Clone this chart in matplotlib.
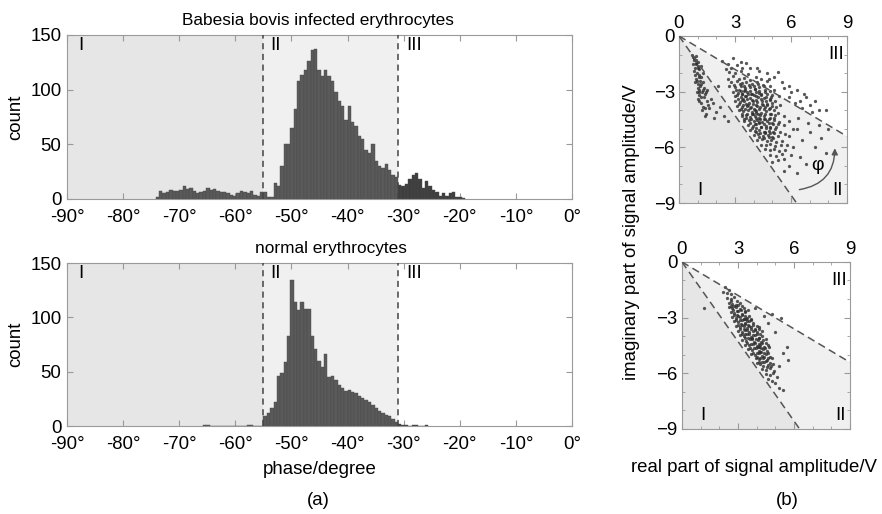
import numpy as np
import matplotlib.pyplot as plt
from matplotlib.patches import Polygon, FancyArrowPatch

plt.rcParams['font.family'] = ['Liberation Sans', 'DejaVu Sans']
plt.rcParams['font.size'] = 13.4

# fronteiras das regiões (graus)
phase_I_II = -55.0
phase_II_III = -31.0
bin_width = 0.6

# histograma - eritrócitos infectados
top_start = -74.2
top_counts = [2, 7, 5, 6, 8, 7, 7, 8, 12, 9, 10, 7, 5, 6, 7, 10, 8, 9, 7, 6, 6, 5, 4, 3, 5, 7, 6, 5, 7, 4, 3, 6,
              6, 2, 2, 15, 12, 30, 50, 50, 65, 82, 108, 113, 118, 126, 136, 137, 118, 112, 118, 112, 108, 98, 90, 85,
              72, 85, 70, 67, 58, 55, 45, 42, 50, 35, 30, 28, 32, 26, 22, 20,
              13, 12, 14, 18, 22, 24, 18, 10, 16, 12, 8, 6, 3, 5, 3, 5, 6, 2, 2, 1]

# histograma - eritrócitos normais
bot_start = -65.8
bot_counts = [1, 1, 0, 0, 0, 0, 0, 0, 0, 0, 0, 0, 0, 1, 1, 0, 0, 0,
              9, 12, 17, 22, 46, 49, 59, 83, 134, 114, 107, 114, 108, 108, 83, 71, 60, 54, 66, 45, 46, 42,
              38, 35, 32, 33, 31, 30, 28, 26, 24, 22, 19, 17, 14, 12, 10, 9, 6, 4,
              2, 1, 1, 0, 1, 1, 0, 0, 1]

# nuvem de pontos - infectados (parte real, parte imaginária)
top_re = [0.7, 0.8, 0.9, 0.75, 0.85, 1.0, 0.95, 1.1, 0.8, 0.9, 1.0, 1.2, 1.05, 0.85, 1.15, 1.3, 0.95, 1.1, 1.25, 1.0,
          1.35, 1.2, 1.4, 1.1, 1.3, 1.5, 1.25, 1.45, 1.6, 1.35, 1.2, 1.5, 1.7, 1.4, 1.55, 0.9, 1.0, 1.15, 1.3, 1.45,
          1.8, 2.0, 2.2, 1.9, 2.4, 2.1, 2.6,
          2.3, 2.6, 3.1, 2.8, 3.4, 2.5,
          2.7, 3.0, 3.3, 3.7, 4.1, 2.9, 3.5, 4.4, 3.2, 3.8, 4.7, 2.6,
          2.8, 3.1, 3.4, 3.6, 3.9, 4.2, 4.5, 4.9, 2.7, 3.0, 3.3, 3.55, 3.8, 4.05, 4.3, 4.6, 5.1, 3.2, 3.5,
          2.9, 3.15, 3.4, 3.65, 3.9, 4.15, 4.4, 4.7, 5.0, 5.35, 3.0, 3.3, 3.55, 3.8, 4.0, 4.25, 4.55, 4.85, 3.7, 4.3, 3.45,
          3.0, 3.25, 3.5, 3.75, 3.95, 4.2, 4.45, 4.7, 5.0, 5.4, 3.1, 3.4, 3.65, 3.85, 4.1, 4.35, 4.6, 4.9, 5.2, 3.6, 4.0, 4.5,
          3.2, 3.45, 3.7, 3.9, 4.15, 4.4, 4.65, 4.95, 5.3, 5.6, 3.35, 3.6, 3.8, 4.05, 4.3, 4.55, 4.8, 5.1, 3.95, 4.25, 3.5,
          3.5, 3.75, 4.0, 4.2, 4.45, 4.7, 5.0, 5.35, 3.7, 3.95, 4.15, 4.4, 4.65, 4.9, 5.2, 5.6, 4.3, 4.55,
          3.8, 4.05, 4.3, 4.55, 4.8, 5.05, 5.4, 4.0, 4.25, 4.5, 4.75, 5.0, 5.3, 5.7, 4.6,
          4.2, 4.45, 4.7, 4.95, 5.2, 5.5, 4.4, 4.65, 4.9, 5.15, 5.45, 5.8,
          4.6, 4.85, 5.1, 5.35, 5.7, 4.9, 5.2, 5.5, 6.0, 5.3, 5.6, 5.0,
          3.6, 4.2, 4.7, 5.1, 5.5, 5.9, 6.3, 6.7, 5.3, 6.5, 7.0, 7.5, 7.9, 6.0, 5.6, 4.8, 4.3, 3.8, 3.3, 2.9,
          6.8, 7.3, 5.9, 6.2, 6.6, 7.1,
          5.9, 6.3, 6.6, 7.0, 7.3, 6.1, 6.5, 7.6, 6.8, 5.9, 6.3, 7.9, 5.6, 6.9, 6.4, 5.9, 7.5, 8.0, 6.1,
          # núcleo denso
          2.95, 3.25, 3.5, 3.75, 4.0, 4.25, 4.55,
          3.05, 3.3, 3.55, 3.8, 4.05, 4.3, 4.6, 4.9,
          3.1, 3.35, 3.6, 3.85, 4.1, 4.4, 4.65, 4.95,
          3.15, 3.4, 3.65, 3.9, 4.15, 4.4, 4.65, 4.9, 5.15,
          3.2, 3.45, 3.7, 3.95, 4.2, 4.45, 4.7, 5.0,
          3.3, 3.55, 3.8, 4.05, 4.3, 4.55, 4.8, 5.1,
          3.4, 3.65, 3.9, 4.1, 4.35, 4.6, 4.85, 5.15,
          3.6, 3.85, 4.1, 4.35, 4.6, 4.85, 5.1,
          3.8, 4.05, 4.3, 4.55, 4.8, 5.05, 5.3,
          3.9, 4.15, 4.4, 4.65, 4.9, 5.15,
          4.1, 4.35, 4.6, 4.85, 5.1,
          4.3, 4.55, 4.8, 5.05,
          0.8, 0.9, 1.0, 0.85, 0.95, 1.1, 1.0, 1.2, 0.9, 1.1, 1.3, 1.05, 1.2, 0.75, 1.4]
top_im = [-1.0, -1.2, -1.1, -1.5, -1.7, -1.4, -2.0, -1.8, -1.9, -2.3, -2.6, -2.2, -2.9, -2.5, -2.7, -2.5, -3.0, -3.2,
          -3.0, -3.4, -3.3, -3.6, -3.1, -2.1, -3.8, -3.5, -4.0, -4.2, -3.9, -2.8, -1.6, -2.9, -3.4, -4.3, -3.7, -1.3,
          -1.7, -2.4, -2.0, -3.0,
          -3.6, -4.1, -3.8, -4.4, -4.3, -2.7, -4.6,
          -1.35, -1.5, -1.55, -1.7, -1.75, -1.8,
          -1.95, -2.0, -1.9, -2.05, -2.2, -2.15, -2.25, -2.3, -2.3, -2.35, -2.4, -2.3,
          -2.5, -2.45, -2.55, -2.5, -2.6, -2.5, -2.65, -2.7, -2.7, -2.75, -2.7, -2.8, -2.75, -2.85, -2.75, -2.9, -2.9,
          -2.9, -2.95,
          -3.0, -3.05, -3.1, -3.0, -3.1, -3.0, -3.15, -3.1, -3.2, -3.25, -3.25, -3.3, -3.25, -3.35, -3.2, -3.3, -3.35,
          -3.4, -3.15, -3.05, -3.4,
          -3.5, -3.55, -3.5, -3.6, -3.5, -3.55, -3.5, -3.65, -3.6, -3.7, -3.75, -3.8, -3.75, -3.85, -3.7, -3.8, -3.85,
          -3.9, -3.85, -3.65, -3.95, -3.7,
          -4.0, -4.05, -4.0, -4.1, -4.05, -4.15, -4.05, -4.2, -4.15, -4.3, -4.3, -4.25, -4.35, -4.3, -4.4, -4.3, -4.45,
          -4.4, -4.2, -4.2, -4.45,
          -4.6, -4.55, -4.6, -4.5, -4.65, -4.6, -4.7, -4.65, -4.8, -4.85, -4.75, -4.9, -4.85, -4.95, -4.9, -4.8, -4.7,
          -4.45,
          -5.05, -5.1, -5.05, -5.15, -5.1, -5.2, -5.15, -5.35, -5.3, -5.4, -5.35, -5.45, -5.4, -5.3, -5.25,
          -5.6, -5.55, -5.65, -5.6, -5.7, -5.65, -5.85, -5.9, -5.8, -5.95, -5.9, -5.85,
          -6.1, -6.15, -6.1, -6.2, -6.15, -6.4, -6.45, -6.35, -6.4, -6.7, -6.65, -6.8,
          -1.45, -1.7, -2.0, -2.2, -2.5, -2.7, -2.9, -3.1, -1.95, -3.5, -3.7, -4.0, -4.0, -3.0, -2.8, -2.3, -1.9, -1.7,
          -1.4, -1.2,
          -3.3, -3.5, -3.3, -3.6, -3.9, -4.1,
          -5.4, -5.0, -5.6, -5.2, -6.0, -6.0, -6.5, -5.5, -6.9, -7.0, -7.4, -6.3, -7.3, -4.7, -4.4, -4.6, -4.8, -5.0, -5.0,
          # núcleo denso
          -2.62, -2.6, -2.68, -2.63, -2.7, -2.6, -2.72,
          -2.92, -2.98, -2.9, -2.95, -2.88, -2.97, -3.0, -2.95,
          -3.18, -3.15, -3.22, -3.12, -3.25, -3.2, -3.27, -3.3,
          -3.42, -3.47, -3.4, -3.45, -3.43, -3.4, -3.48, -3.45, -3.5,
          -3.68, -3.7, -3.72, -3.66, -3.75, -3.68, -3.73, -3.75,
          -3.92, -3.95, -3.9, -3.97, -3.93, -3.96, -3.95, -4.0,
          -4.18, -4.2, -4.22, -4.15, -4.25, -4.2, -4.23, -4.27,
          -4.42, -4.47, -4.4, -4.45, -4.48, -4.42, -4.5,
          -4.68, -4.72, -4.65, -4.75, -4.7, -4.73, -4.75,
          -4.95, -4.98, -4.92, -4.97, -4.93, -5.0,
          -5.2, -5.22, -5.18, -5.25, -5.22,
          -5.45, -5.48, -5.43, -5.5,
          -1.3, -1.5, -1.6, -2.1, -2.4, -2.2, -2.8, -2.6, -1.45, -3.0, -2.9, -3.5, -3.3, -1.15, -3.9]

# nuvem de pontos - normais
bot_re = [2.3, 2.5, 2.4, 2.65, 2.2,
          2.4, 2.6, 2.8, 2.95, 2.5, 2.7, 2.9, 3.1, 2.65,
          2.5, 2.7, 2.9, 3.1, 3.3, 2.6, 2.8, 3.0, 3.2, 3.4, 2.95, 3.55,
          2.7, 2.9, 3.1, 3.3, 3.5, 3.7, 2.8, 3.0, 3.2, 3.4, 3.6, 3.8, 3.15, 3.45,
          2.9, 3.1, 3.3, 3.5, 3.7, 3.9, 4.1, 3.0, 3.2, 3.4, 3.6, 3.8, 4.0, 3.55, 4.3,
          3.1, 3.3, 3.5, 3.7, 3.9, 4.1, 4.3, 3.2, 3.45, 3.65, 3.85, 4.05, 4.25, 4.5, 3.75,
          3.4, 3.6, 3.8, 4.0, 4.2, 4.4, 4.6, 3.55, 3.75, 3.95, 4.15, 4.35, 4.55, 4.1,
          3.7, 3.9, 4.1, 4.3, 4.5, 4.7, 3.95, 4.15, 4.35, 4.55, 4.8, 4.25,
          4.0, 4.2, 4.4, 4.6, 4.85, 4.3, 4.5, 4.7, 4.95,
          4.5, 4.7, 4.9, 5.1, 4.8, 5.0, 5.2, 4.6,
          1.2, 5.4, 5.6, 5.2, 5.0, 4.6, 3.9, 5.4, 4.4, 5.7, 4.8, 5.3,
          # núcleo denso
          2.6, 2.8, 3.0, 3.2,
          2.75, 2.95, 3.15, 3.35,
          2.8, 3.0, 3.2, 3.4, 3.6,
          2.9, 3.1, 3.3, 3.5, 3.7,
          3.0, 3.2, 3.4, 3.6, 3.8, 4.0,
          3.1, 3.3, 3.5, 3.7, 3.9, 4.1,
          3.2, 3.4, 3.6, 3.8, 4.0, 4.2,
          3.35, 3.55, 3.75, 3.95, 4.15, 4.35,
          3.5, 3.7, 3.9, 4.1, 4.3, 4.5,
          3.65, 3.85, 4.05, 4.25, 4.45, 4.65,
          3.8, 4.0, 4.2, 4.4, 4.6,
          4.0, 4.2, 4.4, 4.6,
          4.1, 4.3, 4.5, 4.7,
          4.35, 4.55, 4.75]
bot_im = [-1.35, -1.5, -1.7, -1.75, -1.6,
          -1.95, -2.0, -1.9, -2.1, -2.2, -2.25, -2.3, -2.2, -2.1,
          -2.45, -2.5, -2.45, -2.55, -2.5, -2.7, -2.75, -2.65, -2.8, -2.7, -2.85, -2.6,
          -2.95, -3.0, -2.95, -3.05, -3.0, -3.1, -3.2, -3.25, -3.15, -3.3, -3.2, -3.3, -3.35, -3.1,
          -3.45, -3.5, -3.45, -3.55, -3.5, -3.6, -3.5, -3.7, -3.75, -3.65, -3.8, -3.7, -3.8, -3.4, -3.7,
          -3.95, -4.0, -3.9, -4.05, -3.95, -4.1, -4.0, -4.2, -4.25, -4.15, -4.3, -4.2, -4.3, -4.15, -4.1,
          -4.45, -4.5, -4.4, -4.55, -4.45, -4.6, -4.5, -4.7, -4.75, -4.65, -4.8, -4.7, -4.8, -4.6,
          -4.95, -5.0, -4.9, -5.05, -4.95, -5.1, -5.2, -5.25, -5.15, -5.3, -5.2, -4.85,
          -5.45, -5.5, -5.4, -5.55, -5.5, -5.75, -5.8, -5.7, -5.85,
          -6.05, -6.1, -6.0, -6.2, -6.4, -6.5, -6.8, -6.3,
          -2.5, -4.9, -4.6, -5.6, -3.8, -3.3, -2.5, -6.9, -2.9, -5.3, -2.8, -3.0,
          # núcleo denso
          -2.35, -2.38, -2.32, -2.4,
          -2.6, -2.62, -2.58, -2.65,
          -2.88, -2.9, -2.87, -2.92, -2.9,
          -3.12, -3.15, -3.1, -3.17, -3.13,
          -3.38, -3.42, -3.37, -3.43, -3.4, -3.45,
          -3.62, -3.6, -3.65, -3.62, -3.67, -3.6,
          -3.88, -3.9, -3.86, -3.92, -3.87, -3.9,
          -4.12, -4.1, -4.17, -4.14, -4.1, -4.18,
          -4.37, -4.4, -4.36, -4.42, -4.38, -4.35,
          -4.62, -4.64, -4.6, -4.66, -4.63, -4.6,
          -4.88, -4.9, -4.86, -4.92, -4.88,
          -5.12, -5.15, -5.1, -5.17,
          -5.38, -5.4, -5.36, -5.42,
          -5.62, -5.65, -5.6]

fig = plt.figure(figsize=(8.82, 5.14), dpi=100)

col_I = '#e6e6e6'
col_II = '#f0f0f0'
frame = '#9a9a9a'


def histo(ax, start, counts, title, title_x, xlabel=False):
    counts = np.array(counts)
    edges = start + bin_width * np.arange(len(counts))
    ax.axvspan(-90, phase_I_II, color=col_I, lw=0, zorder=0)
    ax.axvspan(phase_I_II, phase_II_III, color=col_II, lw=0, zorder=0)
    cols = ['#3e3e3e' if e >= phase_II_III - 0.1 else '#5a5a5a' for e in edges]
    ax.bar(edges, counts, width=bin_width, align='edge', color=cols, edgecolor='#4a4a4a', linewidth=0.3, zorder=2)
    for p in (phase_I_II, phase_II_III):
        ax.axvline(p, color='#444444', ls=(0, (4, 3)), lw=1.1, zorder=3)
    ax.set_xlim(-90, 0)
    ax.set_ylim(0, 150)
    ax.set_yticks([0, 50, 100, 150])
    ax.set_xticks(np.arange(-90, 1, 10))
    ax.set_xticklabels([f'{t}°' for t in range(-90, 1, 10)])
    ax.tick_params(direction='in', top=True, right=True, length=4, color=frame)
    ax.tick_params(axis='x', pad=7)
    ax.tick_params(axis='y', pad=4)
    for s in ax.spines.values():
        s.set_color(frame)
    ax.set_ylabel('count', labelpad=4)
    ax.set_title(title, fontsize=12.4, pad=7, x=title_x)
    ax.text(-88, 140, 'I', va='center')
    ax.text(-53.7, 140, 'II', va='center')
    ax.text(-29.5, 140, 'III', va='center')
    if xlabel:
        ax.set_xlabel('phase/degree', labelpad=6)


def nuvem(ax, re, im, arrow=False):
    x_I = 9 / np.tan(np.radians(-phase_I_II))
    y_III = 9 * np.tan(np.radians(phase_II_III))
    ax.add_patch(Polygon([(0, 0), (0, -9), (x_I, -9)], closed=True, color=col_I, lw=0, zorder=0))
    ax.add_patch(Polygon([(0, 0), (x_I, -9), (9, -9), (9, y_III)], closed=True, color=col_II, lw=0, zorder=0))
    ax.scatter(re, im, s=5.5, marker='o', color='#2e2e2e', alpha=0.8, linewidths=0, zorder=2)
    ax.plot([0, x_I], [0, -9], color='#555555', ls=(0, (5, 3)), lw=1.1, zorder=3)
    ax.plot([0, 9], [0, y_III], color='#555555', ls=(0, (5, 3)), lw=1.1, zorder=3)
    ax.set_xlim(0, 9)
    ax.set_ylim(-9, 0)
    ax.set_xticks([0, 3, 6, 9])
    ax.set_yticks([0, -3, -6, -9])
    ax.set_xticks(np.arange(0, 10, 1), minor=True)
    ax.set_yticks(np.arange(-9, 1, 1), minor=True)
    ax.xaxis.tick_top()
    ax.tick_params(which='both', direction='in', top=True, bottom=True, left=True, right=True,
                   color=frame, pad=3)
    ax.tick_params(which='major', length=4)
    ax.tick_params(which='minor', length=2.5)
    for s in ax.spines.values():
        s.set_color(frame)
    ax.text(1.0, -8.3, 'I', va='center')
    ax.text(8.75, -8.3, 'II', va='center', ha='right')
    ax.text(8.85, -1.0, 'III', va='center', ha='right')
    if arrow:
        ax.add_patch(FancyArrowPatch((6.3, -8.3), (8.35, -5.9), connectionstyle='arc3,rad=0.45',
                                     arrowstyle='-|>', mutation_scale=9, color='#555555', lw=1.0, zorder=4))
        ax.text(7.45, -7.0, 'φ', ha='center', va='center', fontsize=14)


ax1 = fig.add_axes([0.076, 0.613, 0.5726, 0.319])
histo(ax1, top_start, top_counts, 'Babesia bovis infected erythrocytes', 0.497)
ax2 = fig.add_axes([0.076, 0.1712, 0.5726, 0.3171])
histo(ax2, bot_start, bot_counts, 'normal erythrocytes', 0.523, xlabel=True)

ax3 = fig.add_axes([0.7698, 0.605, 0.1905, 0.325])
nuvem(ax3, top_re, top_im, arrow=True)
ax4 = fig.add_axes([0.7732, 0.1654, 0.1905, 0.325])
nuvem(ax4, bot_re, bot_im)

fig.text(0.716, 0.548, 'imaginary part of signal amplitude/V', rotation=90, ha='center', va='center')
fig.text(0.855, 0.09, 'real part of signal amplitude/V', ha='center', va='center')
fig.text(0.361, 0.027, '(a)', ha='center', va='center')
fig.text(0.893, 0.027, '(b)', ha='center', va='center')

plt.savefig('out.png', dpi=100)
